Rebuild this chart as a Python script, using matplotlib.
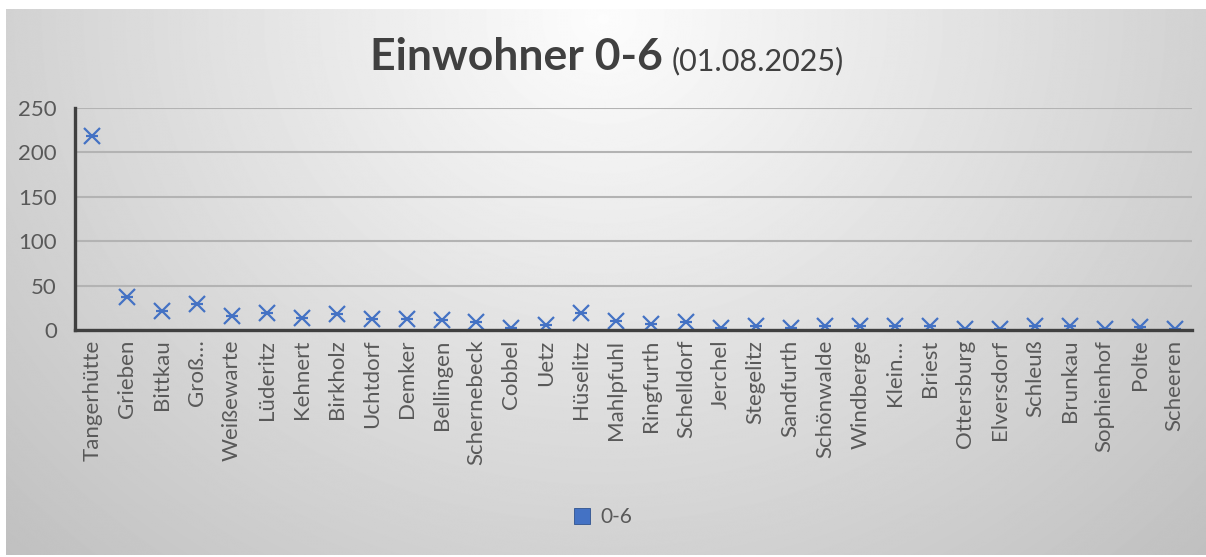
import numpy as np
import matplotlib
matplotlib.use("Agg")
import matplotlib.pyplot as plt
from matplotlib.lines import Line2D

# Ortsteile and children aged 0-6
orte = ["Tangerhütte", "Grieben", "Bittkau", "Groß…", "Weißewarte", "Lüderitz",
        "Kehnert", "Birkholz", "Uchtdorf", "Demker", "Bellingen", "Schernebeck",
        "Cobbel", "Uetz", "Hüselitz", "Mahlpfuhl", "Ringfurth", "Schelldorf",
        "Jerchel", "Stegelitz", "Sandfurth", "Schönwalde", "Windberge", "Klein…",
        "Briest", "Ottersburg", "Elversdorf", "Schleuß", "Brunkau", "Sophienhof",
        "Polte", "Scheeren"]
kinder = [218, 37, 21, 29, 16, 19, 14, 18, 12, 12, 11, 9, 2, 6, 19, 10, 7, 9,
          2, 4, 2, 5, 4, 4, 4, 1, 1, 4, 4, 1, 3, 1]
y_ticks = [0, 50, 100, 150, 200, 250]

FONT = ["Lato", "DejaVu Sans"]
TXT = "#595959"
BLUE = "#4472C4"

plt.rcParams["font.family"] = FONT

W, H = 1206, 557
fig = plt.figure(figsize=(W / 100, H / 100), dpi=100)
fig.patch.set_facecolor("white")

# radial grey gradient behind the chart, lightest at the top centre
bg = fig.add_axes([6 / W, 2 / H, 1 - 6 / W, 1 - 11 / H], zorder=-10)
yy, xx = np.mgrid[0:H, 0:W]
r = np.hypot(xx - 600, (yy - 10) * 1.1)
bg.imshow(np.clip(0.99 - 0.00028 * r, 0, 1), cmap="gray", vmin=0, vmax=1,
          aspect="auto", interpolation="bilinear")
bg.axis("off")

ax = fig.add_axes([75 / W, 1 - 330 / H, (1192 - 75) / W, (330 - 108) / H])
ax.patch.set_alpha(0)
x = np.arange(len(orte))
ax.plot(x, kinder, ls="none", marker="x", ms=11, mew=1.6, color=BLUE, zorder=3)
ax.plot(x, kinder, ls="none", marker="_", ms=9, mew=1.6, color=BLUE, zorder=3)

ax.set_xlim(-0.5, len(orte) - 0.5)
ax.set_ylim(0, 250)
ax.set_yticks(y_ticks)
ax.set_xticks(x)
ax.set_xticklabels(orte, rotation=90, fontsize=16, color=TXT)
ax.tick_params(axis="y", length=0, pad=13, labelsize=16, labelcolor=TXT)
ax.tick_params(axis="x", length=0, pad=7)
ax.grid(axis="y", color="#b3b3b3", lw=1.5)
ax.set_axisbelow(True)
for s in ("top", "right"):
    ax.spines[s].set_visible(False)
for s in ("left", "bottom"):
    ax.spines[s].set_color("#404040")
    ax.spines[s].set_linewidth(2.4)
    ax.spines[s].set_zorder(4)

# title: bold part + date in regular weight
fig.text(663 / W, 1 - 70 / H, "Einwohner 0-6", ha="right", va="baseline",
         fontsize=32, fontweight="bold", color="#404040")
fig.text(672 / W, 1 - 70 / H, "(01.08.2025)", ha="left", va="baseline",
         fontsize=22, color="#404040")

handle = Line2D([], [], ls="none", marker="s", ms=11, mfc=BLUE, mec="#2f528f", mew=0.6)
fig.legend([handle], ["0-6"], loc="center", bbox_to_anchor=(602 / W, 1 - 517 / H),
           frameon=False, fontsize=15, labelcolor=TXT, handletextpad=0.4,
           handlelength=1.0)

fig.savefig("out.png", dpi=100)
